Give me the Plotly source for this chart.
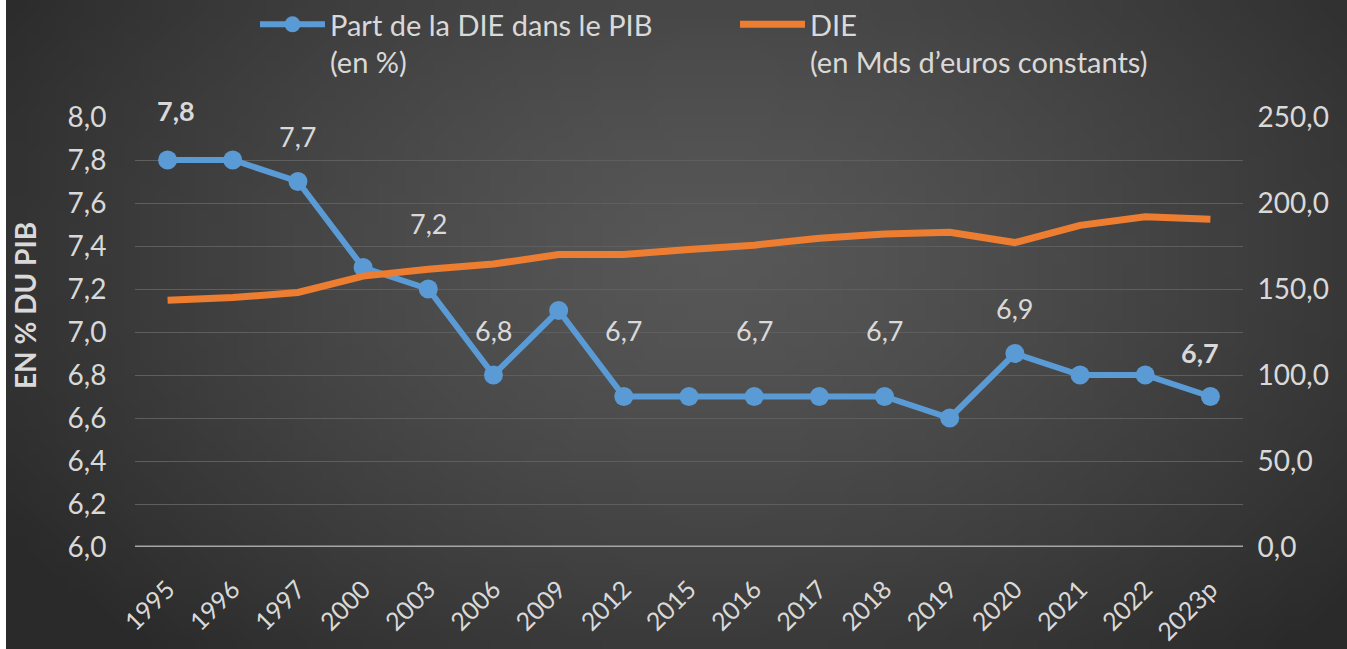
import base64
import struct
import zlib
import numpy as np
import plotly.graph_objects as go

# data
years = ["1995", "1996", "1997", "2000", "2003", "2006", "2009", "2012", "2015",
         "2016", "2017", "2018", "2019", "2020", "2021", "2022", "2023p"]
part_pib = [7.8, 7.8, 7.7, 7.3, 7.2, 6.8, 7.1, 6.7, 6.7, 6.7, 6.7, 6.7, 6.6, 6.9, 6.8, 6.8, 6.7]
die_mds = [143.5, 145.0, 148.0, 157.5, 161.5, 164.5, 170.0, 170.0, 173.0,
           175.5, 179.5, 182.0, 183.0, 177.0, 187.0, 192.0, 190.5]
labels = ["7,8", "", "7,7", "", "7,2", "6,8", "", "6,7", "", "6,7", "", "6,7", "", "6,9", "", "", "6,7"]
bold_labels = ["1995", "2023p"]

colors = {
    'blue': '#5B9BD5',
    'orange': '#ED7D31',
    'text': '#D9D9D9',
    'grid': '#5E5E5E',
    'axis': '#A6A6A6',
}
FONT = 'Lato, "Open Sans", sans-serif'

# figure sits 6px from the left edge of the page (see post_script)
W, H = 1347, 649
L, R, T, B = 129, 110, 117, 102
pw, ph = W - L - R, H - T - B


# radial-ish dark gradient background, built as a tiny png
def gradient_png(w=96, h=48):
    yy, xx = np.mgrid[0:h, 0:w]
    cx, cy = w * 0.52, h * 0.38
    d = np.sqrt(((xx - cx) / (w * 0.62)) ** 2 + ((yy - cy) / (h * 0.85)) ** 2)
    d = np.clip(d, 0, 1)
    v = (88 - 46 * d ** 1.3).astype(np.uint8)
    raw = b''.join(b'\x00' + bytes(np.repeat(row, 3)) for row in v)

    def chunk(tag, data):
        c = struct.pack('>I', len(data)) + tag + data
        return c + struct.pack('>I', zlib.crc32(tag + data) & 0xffffffff)
    png = b'\x89PNG\r\n\x1a\n' + chunk(b'IHDR', struct.pack('>IIBBBBB', w, h, 8, 2, 0, 0, 0))
    png += chunk(b'IDAT', zlib.compress(raw)) + chunk(b'IEND', b'')
    return 'data:image/png;base64,' + base64.b64encode(png).decode()


fig = go.Figure()
fig.add_trace(go.Scatter(
    x=years, y=part_pib, name='Part de la DIE dans le PIB<br>(en %)',
    mode='lines+markers', line=dict(color=colors['blue'], width=6),
    marker=dict(size=19, color=colors['blue']), yaxis='y'))
fig.add_trace(go.Scatter(
    x=years, y=die_mds, name='DIE<br>(en Mds d\u2019euros constants)',
    mode='lines', line=dict(color=colors['orange'], width=7), yaxis='y2'))

shifts = {"1995": (8, 50), "2023p": (-10, 44), "2003": (0, 66), "2012": (0, 66),
          "2016": (0, 66), "2018": (0, 66)}
for i, (yr, val, lab) in enumerate(zip(years, part_pib, labels)):
    if not lab:
        continue
    dx, dy = shifts.get(yr, (0, 45))
    txt = '<b>' + lab + '</b>' if yr in bold_labels else lab
    fig.add_annotation(x=i, y=val, xref='x', yref='y', text=txt, showarrow=False,
                       xshift=dx, yshift=dy,
                       font=dict(family=FONT, size=27, color=colors['text']))

# axis title, placed a bit above the plot's middle like the original
fig.add_annotation(text='<b>EN % DU PIB</b>', textangle=-90, showarrow=False,
                   xref='paper', yref='paper', x=(19 - L) / pw, y=1 - (306 - T) / ph,
                   xanchor='center', yanchor='middle',
                   font=dict(family=FONT, size=28, color=colors['text']))

fig.add_layout_image(dict(
    source=gradient_png(), xref='paper', yref='paper',
    x=-L / pw, y=1 + T / ph, sizex=W / pw, sizey=H / ph,
    sizing='stretch', layer='below', xanchor='left', yanchor='top'))

fig.update_layout(
    width=W, height=H,
    margin=dict(l=L, r=R, t=T, b=B, pad=0, autoexpand=False),
    paper_bgcolor='#3c3c3c', plot_bgcolor='rgba(0,0,0,0)',
    separators=', ',
    font=dict(family=FONT, size=24, color=colors['text']),
    showlegend=True,
    legend=dict(orientation='h', x=(249 - L) / pw, xanchor='left',
                y=1 + (T + 1) / ph, yanchor='top', valign='top',
                itemwidth=65, entrywidth=400, entrywidthmode='pixels',
                font=dict(family=FONT, size=29, color=colors['text']),
                bgcolor='rgba(0,0,0,0)', traceorder='normal'),
    xaxis=dict(type='category', range=[-0.5, len(years) - 0.5], tickangle=-45,
               showgrid=False, zeroline=False, showline=False, ticks='',
               ticklabelstandoff=22,
               tickfont=dict(size=25, color=colors['text'])),
    yaxis=dict(range=[6, 8], dtick=0.2, tickformat='.1f', showgrid=True,
               gridcolor=colors['grid'], gridwidth=1, zeroline=False,
               ticks='outside', ticklen=22, tickcolor='rgba(0,0,0,0)',
               tickfont=dict(size=28, color=colors['text'])),
    yaxis2=dict(range=[0, 250], dtick=50, tickformat='.1f', overlaying='y', side='right',
                showgrid=False, zeroline=False, ticks='outside', ticklen=8,
                tickcolor='rgba(0,0,0,0)', tickfont=dict(size=28, color=colors['text'])),
)
# heavier base line at 6,0
fig.add_hline(y=6, line=dict(color=colors['axis'], width=3), layer='below')

fig.write_html("out.html", post_script="document.body.style.margin='0 0 0 6px';")
